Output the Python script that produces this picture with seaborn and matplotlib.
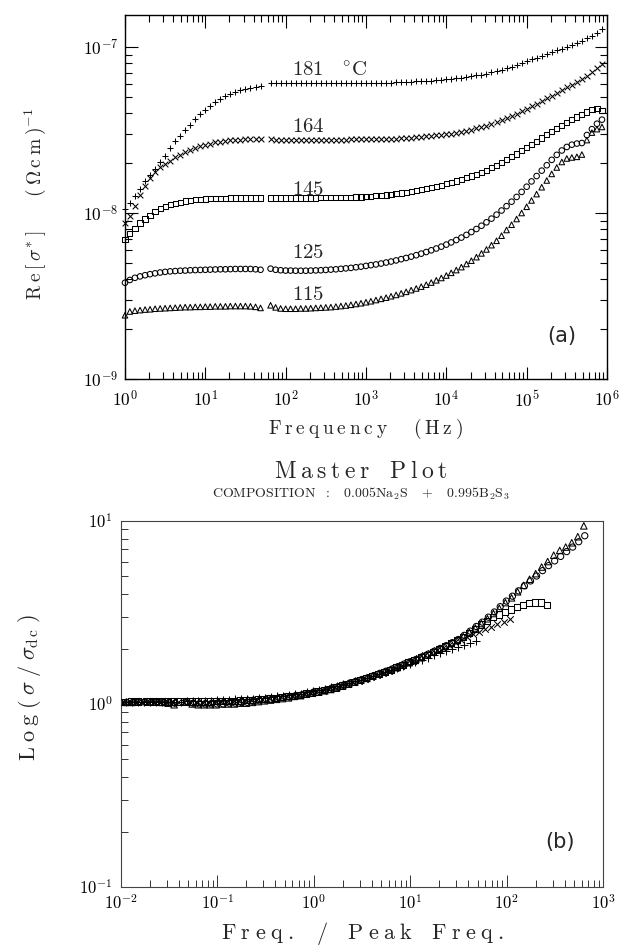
import numpy as np
import pandas as pd
import matplotlib
matplotlib.use("Agg")
import matplotlib.pyplot as plt
import seaborn as sns
from matplotlib.ticker import LogLocator, NullFormatter

sns.set_style("ticks")
plt.rcParams["mathtext.fontset"] = "cm"
plt.rcParams["font.family"] = ["DejaVu Serif", "DejaVu Sans"]

# ---------------- panel (a) data ----------------
# measured frequencies (Hz): low-frequency bridge and high-frequency analyser
freq_low = [1.00, 1.15, 1.33, 1.54, 1.78, 2.05, 2.37, 2.74, 3.16, 3.65, 4.22, 4.87, 5.62, 6.49,
            7.50, 8.66, 10.0, 11.5, 13.3, 15.4, 17.8, 20.5, 23.7, 27.4, 31.6, 36.5, 42.2, 48.7]
freq_high = [64.9, 75.0, 86.6, 100, 115, 133, 154, 178, 205, 237, 274, 316, 365, 422, 487, 562, 649, 750, 866,
             1.00e3, 1.15e3, 1.33e3, 1.54e3, 1.78e3, 2.05e3, 2.37e3, 2.74e3, 3.16e3, 3.65e3, 4.22e3, 4.87e3,
             5.62e3, 6.49e3, 7.50e3, 8.66e3,
             1.00e4, 1.15e4, 1.33e4, 1.54e4, 1.78e4, 2.05e4, 2.37e4, 2.74e4, 3.16e4, 3.65e4, 4.22e4, 4.87e4,
             5.62e4, 6.49e4, 7.50e4, 8.66e4,
             1.00e5, 1.15e5, 1.33e5, 1.54e5, 1.78e5, 2.05e5, 2.37e5, 2.74e5, 3.16e5, 3.65e5, 4.22e5, 4.87e5,
             5.62e5, 6.49e5, 7.50e5, 8.66e5]

# Re[sigma*] in units of 1e-9 (Ohm cm)^-1
sig181_low = [10.5, 11.5, 12.7, 14.0, 15.5, 17.0, 18.5, 20.2, 22.2, 24.5, 27.0, 29.3, 31.6, 34.0,
              36.7, 39.5, 42.0, 44.3, 46.5, 48.5, 50.5, 52.2, 53.7, 55.0, 56.1, 57.0, 57.8, 58.4]
sig181_high = [60.5, 60.4, 60.4, 60.3, 60.3, 60.3, 60.3, 60.3, 60.3, 60.3, 60.3, 60.3, 60.4, 60.4, 60.4,
               60.5, 60.5, 60.5, 60.6,
               60.6, 60.7, 60.8, 60.9, 61.0, 61.1, 61.3, 61.4, 61.6, 61.8, 62.0, 62.3, 62.5, 62.8, 63.1, 63.4,
               63.8, 64.3, 64.8, 65.4, 66.0, 66.7, 67.5, 68.3, 69.2, 70.3, 71.5, 72.8, 74.3, 76.0, 77.8, 79.8,
               82.0, 84.2, 86.4, 88.6, 90.9, 93.2, 95.5, 97.9, 100.3, 103, 106, 109, 113, 117, 122, 128]

sig164_low = [8.7, 9.6, 11.0, 12.8, 14.6, 16.2, 17.6, 18.8, 19.8, 20.7, 21.6, 22.4, 23.2, 23.9,
              24.6, 25.2, 25.8, 26.2, 26.6, 26.9, 27.2, 27.4, 27.6, 27.7, 27.8, 27.8, 27.9, 27.9]
sig164_high = [27.8, 27.7, 27.7, 27.6, 27.6, 27.6, 27.6, 27.6, 27.6, 27.6, 27.6, 27.6, 27.6, 27.7, 27.7,
               27.7, 27.8, 27.8, 27.8,
               27.8, 27.8, 27.8, 27.9, 27.9, 28.0, 28.1, 28.2, 28.3, 28.4, 28.6, 28.8, 29.0, 29.2, 29.4, 29.6,
               29.8, 30.1, 30.4, 30.8, 31.2, 31.7, 32.3, 32.9, 33.6, 34.4, 35.2, 36.1, 37.1, 38.3, 39.6, 41.0,
               42.5, 44.0, 45.6, 47.3, 49.0, 50.9, 52.9, 55.0, 57.1, 59.4, 61.8, 64.3, 67.0, 70.5, 74.5, 79.0]

sig145_low = [6.9, 7.5, 8.1, 8.7, 9.2, 9.7, 10.2, 10.6, 10.9, 11.2, 11.4, 11.6, 11.8, 11.9,
              12.0, 12.1, 12.15, 12.2, 12.2, 12.25, 12.25, 12.3, 12.3, 12.3, 12.3, 12.3, 12.3, 12.3]
sig145_high = [12.3, 12.3, 12.3, 12.3, 12.3, 12.3, 12.3, 12.3, 12.3, 12.3, 12.35, 12.35, 12.4, 12.4, 12.4,
               12.45, 12.45, 12.5, 12.5,
               12.55, 12.6, 12.7, 12.75, 12.85, 12.95, 13.05, 13.2, 13.35, 13.5, 13.65, 13.85, 14.05, 14.25,
               14.5, 14.7,
               15.0, 15.3, 15.6, 15.9, 16.3, 16.7, 17.1, 17.6, 18.1, 18.7, 19.4, 20.1, 20.9, 21.8, 22.7, 23.7,
               24.7, 25.9, 27.1, 28.3, 29.6, 30.9, 32.3, 33.7, 35.1, 36.5, 37.9, 39.3, 40.6, 41.8, 42.6, 41.6]

sig125_low = [3.80, 3.95, 4.07, 4.15, 4.22, 4.28, 4.33, 4.38, 4.42, 4.45, 4.47, 4.49, 4.50, 4.52,
              4.53, 4.54, 4.55, 4.56, 4.57, 4.58, 4.58, 4.59, 4.60, 4.60, 4.60, 4.60, 4.58, 4.55]
sig125_high = [4.62, 4.55, 4.52, 4.50, 4.50, 4.49, 4.49, 4.49, 4.50, 4.51, 4.52, 4.54, 4.56, 4.58, 4.61,
               4.64, 4.67, 4.71, 4.75,
               4.80, 4.85, 4.90, 4.96, 5.03, 5.10, 5.18, 5.27, 5.36, 5.46, 5.57, 5.69, 5.82, 5.96, 6.11, 6.27,
               6.45, 6.65, 6.87, 7.11, 7.38, 7.68, 8.01, 8.38, 8.79, 9.25, 9.77, 10.35, 11.0, 11.7, 12.5, 13.4,
               14.4, 15.5, 16.7, 18.0, 19.4, 20.9, 22.4, 23.8, 25.0, 25.8, 26.2, 26.4, 29.5, 32.0, 34.5, 36.5]

sig115_low = [2.42, 2.55, 2.58, 2.60, 2.62, 2.63, 2.65, 2.66, 2.67, 2.68, 2.69, 2.70, 2.71, 2.71,
              2.72, 2.72, 2.73, 2.73, 2.74, 2.74, 2.74, 2.75, 2.75, 2.75, 2.75, 2.74, 2.72, 2.68]
sig115_high = [2.78, 2.70, 2.66, 2.65, 2.65, 2.65, 2.66, 2.66, 2.67, 2.68, 2.69, 2.70, 2.71, 2.73, 2.75,
               2.77, 2.80, 2.83, 2.86,
               2.90, 2.94, 2.99, 3.04, 3.09, 3.15, 3.21, 3.28, 3.35, 3.43, 3.51, 3.60, 3.70, 3.81, 3.93, 4.06,
               4.20, 4.36, 4.53, 4.72, 4.93, 5.16, 5.42, 5.71, 6.03, 6.4, 6.8, 7.3, 7.9, 8.5, 9.2, 10.0,
               10.9, 11.9, 13.0, 14.3, 15.7, 17.2, 18.8, 20.3, 21.3, 21.6, 21.8, 22.5, 27.5, 30.5, 32.0, 33.0]

temps = ["181", "164", "145", "125", "115"]
label_texts = [r"$\mathrm{181}\quad{}^{\circ}\mathrm{C}$", r"$\mathrm{164}$", r"$\mathrm{145}$",
               r"$\mathrm{125}$", r"$\mathrm{115}$"]

# ---------------- panel (b) data ----------------
# peak frequency (Hz) used for scaling each temperature
fpeak = {"181": 18100, "164": 8080, "145": 3290, "125": 1340, "115": 1370}
# sigma / sigma_dc for the highest-frequency points of each run (tail of freq_low + freq_high)
bot181 = [1.03, 1.03, 1.03, 1.03, 1.03, 1.03, 1.03, 1.03, 1.03, 1.03, 1.04, 1.04, 1.04, 1.04, 1.04,
          1.05, 1.05, 1.05, 1.06, 1.06, 1.07, 1.07, 1.08, 1.08,
          1.09, 1.10, 1.11, 1.12, 1.13, 1.14, 1.16, 1.17, 1.19, 1.21, 1.23, 1.25, 1.28, 1.30, 1.33, 1.36,
          1.39, 1.42, 1.46, 1.49, 1.53, 1.57, 1.61, 1.65, 1.70, 1.74, 1.79, 1.84, 1.89, 1.94, 1.99, 2.04,
          2.10, 2.16, 2.22]
bot164 = [1.02, 1.02, 1.02, 1.02, 1.02, 1.02, 1.02, 1.02, 1.02, 1.02, 1.02, 1.03, 1.03, 1.03, 1.03, 1.03,
          1.04, 1.04, 1.04, 1.05, 1.05, 1.06, 1.06, 1.07, 1.08, 1.08, 1.09, 1.10, 1.11, 1.12, 1.14, 1.15,
          1.17, 1.18, 1.20, 1.23, 1.25, 1.28, 1.31, 1.34, 1.37, 1.41, 1.44, 1.48, 1.52, 1.57, 1.62, 1.67,
          1.72, 1.78, 1.84, 1.90, 1.96, 2.03, 2.10, 2.17, 2.24, 2.32, 2.40, 2.48, 2.56, 2.64, 2.72, 2.81, 2.90]
bot145 = [1.02, 1.03, 1.03,
          1.03, 1.03, 1.03, 1.03, 1.03, 1.03, 1.03, 1.03, 1.03, 1.03, 1.03, 1.035, 1.04, 1.04, 1.04,
          1.045, 1.05, 1.055, 1.06, 1.065, 1.07, 1.08, 1.09, 1.10, 1.11, 1.12, 1.14, 1.15, 1.17, 1.19,
          1.21, 1.23, 1.26, 1.29, 1.32, 1.35, 1.38, 1.42, 1.46, 1.50, 1.54, 1.59, 1.64, 1.69, 1.74, 1.80,
          1.86, 1.93, 2.00, 2.07, 2.15, 2.23, 2.33, 2.45, 2.58, 2.72, 2.85, 2.98, 3.08, 3.18, 3.28, 3.38,
          3.48, 3.55, 3.58, 3.58, 3.48]
bot125 = [1.02, 1.02, 1.03, 1.03, 1.02, 1.03, 1.03, 1.02, 1.01,
          1.03, 1.01, 1.00, 1.00, 1.00, 1.00, 1.00, 1.01, 1.01, 1.02, 1.02, 1.03, 1.04, 1.05, 1.06, 1.07,
          1.08, 1.09, 1.11,
          1.12, 1.14, 1.16, 1.17, 1.19, 1.22, 1.24, 1.27, 1.30, 1.33, 1.36, 1.39, 1.43, 1.47, 1.51, 1.55,
          1.60, 1.65, 1.70, 1.75, 1.81, 1.87, 1.94, 2.01, 2.08, 2.16, 2.25, 2.37, 2.50, 2.65, 2.80, 2.98,
          3.18, 3.40, 3.65, 3.88, 4.15, 4.42, 4.70, 5.00, 5.35, 5.70, 6.05, 6.40, 6.80, 7.20, 7.70, 8.30]
bot115 = [1.02, 1.02, 1.03, 1.03, 1.03, 1.03, 1.02, 1.01, 0.99,
          1.03, 1.00, 0.99, 0.99, 0.99, 0.99, 1.00, 1.00, 1.00, 1.01, 1.01, 1.02, 1.03, 1.04, 1.05, 1.06,
          1.07, 1.08, 1.10,
          1.11, 1.13, 1.15, 1.16, 1.18, 1.20, 1.23, 1.26, 1.29, 1.32, 1.35, 1.38, 1.42, 1.46, 1.50, 1.54,
          1.58, 1.63, 1.68, 1.73, 1.79, 1.85, 1.92, 1.99, 2.06, 2.14, 2.22, 2.33, 2.46, 2.60, 2.75, 2.92,
          3.12, 3.33, 3.58, 3.80, 4.10, 4.45, 4.80, 5.15, 5.60, 6.00, 6.50, 6.90, 7.20, 7.60, 8.20, 9.40]

# tick labels
top_xticks = [1e0, 1e1, 1e2, 1e3, 1e4, 1e5, 1e6]
top_xticklabels = [r"$10^{0}$", r"$10^{1}$", r"$10^{2}$", r"$10^{3}$", r"$10^{4}$", r"$10^{5}$", r"$10^{6}$"]
top_yticks = [1e-9, 1e-8, 1e-7]
top_yticklabels = [r"$10^{-9}$", r"$10^{-8}$", r"$10^{-7}$"]
bot_xticks = [1e-2, 1e-1, 1e0, 1e1, 1e2, 1e3]
bot_xticklabels = [r"$10^{-2}$", r"$10^{-1}$", r"$10^{0}$", r"$10^{1}$", r"$10^{2}$", r"$10^{3}$"]
bot_yticks = [1e-1, 1e0, 1e1]
bot_yticklabels = [r"$10^{-1}$", r"$10^{0}$", r"$10^{1}$"]

# ---------------- drawing ----------------
markers = {"181": "+", "164": "x", "145": "s", "125": "o", "115": "^"}
msize_top = {"181": 22, "164": 17, "145": 14, "125": 16, "115": 16}
msize_bot = {"181": 26, "164": 22, "145": 20, "125": 20, "115": 22}

top_data = {"181": (sig181_low, sig181_high), "164": (sig164_low, sig164_high),
            "145": (sig145_low, sig145_high), "125": (sig125_low, sig125_high),
            "115": (sig115_low, sig115_high)}
bot_data = {"181": bot181, "164": bot164, "145": bot145, "125": bot125, "115": bot115}

freq_all = freq_low + freq_high


def spaced(words, sp, gap):
    parts = [r"\mathrm{" + sp.join(w) + "}" for w in words]
    return "$" + gap.join(parts) + "$"


def style_kw(t, size, clip):
    kw = dict(marker=markers[t], s=size, linewidth=0.75, edgecolor="k", color="k",
              legend=False, clip_on=clip, zorder=3)
    if markers[t] in ("s", "o", "^"):
        kw["facecolor"] = "none"
    return kw


fig = plt.figure(figsize=(6.19, 9.47), dpi=100)
ax1 = fig.add_axes([0.2019, 0.5998, 0.7787, 0.3844])
ax2 = fig.add_axes([0.1955, 0.0634, 0.7787, 0.3865])

for t in temps:
    lo, hi = top_data[t]
    f = freq_all
    s = list(lo) + list(hi)
    n = min(len(f), len(s))
    d = pd.DataFrame({"freq": f[:n], "sigma": np.array(s[:n]) * 1e-9})
    sns.scatterplot(data=d, x="freq", y="sigma", ax=ax1, **style_kw(t, msize_top[t], False))

for t in temps:
    y = bot_data[t]
    n = min(len(y), len(freq_all))
    x = np.array(freq_all[-n:]) / fpeak[t]
    d = pd.DataFrame({"ratio": x, "norm": y[-n:]})
    sns.scatterplot(data=d, x="ratio", y="norm", ax=ax2, **style_kw(t, msize_bot[t], True))

# ---- panel (a) axes ----
ax1.set_xscale("log")
ax1.set_yscale("log")
ax1.set_xlim(1, 1e6)
ax1.set_ylim(1e-9, 1.56e-7)
ax1.set_xticks(top_xticks, labels=top_xticklabels)
ax1.set_yticks(top_yticks, labels=top_yticklabels)
for axis in (ax1.xaxis, ax1.yaxis):
    axis.set_minor_locator(LogLocator(base=10, subs=np.arange(2, 10), numticks=100))
    axis.set_minor_formatter(NullFormatter())
ax1.tick_params(which="both", direction="in", top=True, right=True, width=0.8, colors="k", labelsize=12.5)
ax1.tick_params(which="major", length=9)
ax1.tick_params(which="minor", length=5)
ax1.tick_params(axis="x", which="major", pad=8)
ax1.tick_params(axis="y", which="major", pad=5)
for sp in ax1.spines.values():
    sp.set_linewidth(1.0)
    sp.set_color("k")

ax1.set_xlabel(spaced(["Frequency", "(Hz)"], r"\:", r"\quad\;\;"), fontsize=14)
ax1.set_ylabel(r"$\mathrm{R\:e}\:[\:\sigma^{*}\:]\qquad(\:\Omega\:\mathrm{c\:m}\:)^{-1}$", fontsize=14)
ax1.xaxis.set_label_coords(0.5, -0.105)
ax1.yaxis.set_label_coords(-0.16, 0.48)

label_y = [0.8297, 0.6786, 0.5055, 0.3324, 0.2170]
for txt, yy in zip(label_texts, label_y):
    ax1.text(0.3465, yy, txt, transform=ax1.transAxes, fontsize=15, ha="left", va="baseline")
ax1.text(0.907, 0.118, "(a)", transform=ax1.transAxes, fontsize=15, ha="center", va="center",
         family="DejaVu Sans")

# ---- panel (b) axes ----
ax2.set_xscale("log")
ax2.set_yscale("log")
ax2.set_xlim(1e-2, 1e3)
ax2.set_ylim(1e-1, 1e1)
ax2.set_xticks(bot_xticks, labels=bot_xticklabels)
ax2.set_yticks(bot_yticks, labels=bot_yticklabels)
for axis in (ax2.xaxis, ax2.yaxis):
    axis.set_minor_locator(LogLocator(base=10, subs=np.arange(2, 10), numticks=100))
    axis.set_minor_formatter(NullFormatter())
ax2.tick_params(which="both", direction="in", top=False, right=False, width=0.7,
                colors="#333333", labelcolor="k", labelsize=12)
ax2.tick_params(which="major", length=9)
ax2.tick_params(which="minor", length=5)
ax2.tick_params(axis="x", which="major", pad=5)
ax2.tick_params(axis="y", which="major", pad=6)
for sp in ax2.spines.values():
    sp.set_linewidth(0.8)
    sp.set_color("#444444")

ax2.set_xlabel(spaced(["Freq.", "/", "Peak", "Freq."], r"\;", r"\quad"), fontsize=16)
ax2.set_ylabel(r"$\mathrm{L\;o\;g}\;(\;\sigma\;/\;\sigma_{\mathrm{d\,c}}\;)$", fontsize=16)
ax2.xaxis.set_label_coords(0.5, -0.09)
ax2.yaxis.set_label_coords(-0.162, 0.546)
ax2.text(0.911, 0.123, "(b)", transform=ax2.transAxes, fontsize=15, ha="center", va="center",
         family="DejaVu Sans")

fig.text(0.583, 0.4952, spaced(["Master", "Plot"], r"\:", r"\quad"), fontsize=17,
         ha="center", va="baseline")
fig.text(0.583, 0.4741,
         r"$\mathrm{COMPOSITION\ \ :\quad 0.005Na_{2}S\quad +\quad 0.995B_{2}S_{3}}$",
         fontsize=10, ha="center", va="baseline")

fig.savefig("out.png", dpi=100)
